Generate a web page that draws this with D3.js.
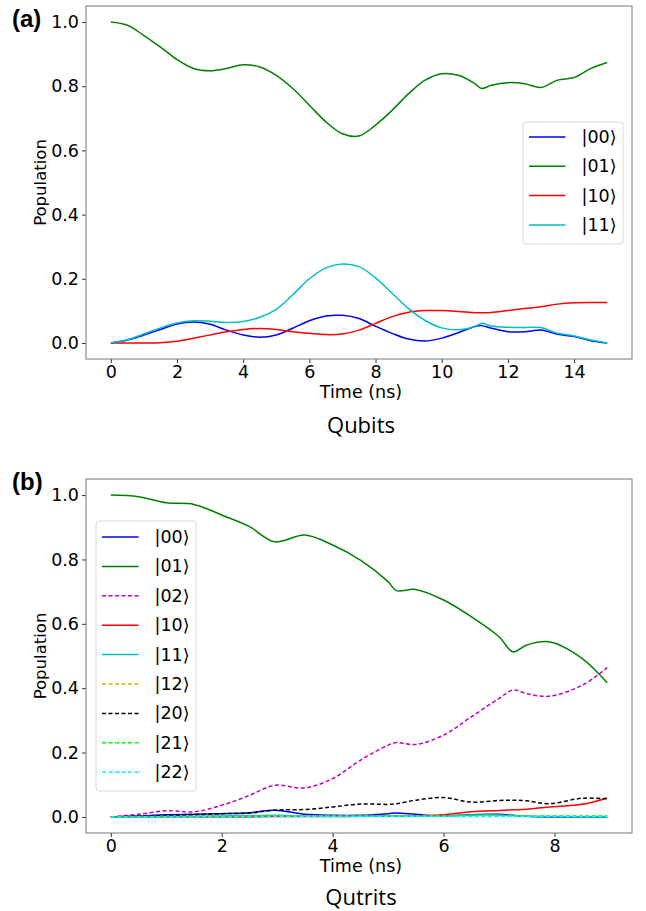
<!DOCTYPE html>
<html>
<head>
<meta charset="utf-8">
<script src="https://cdn.jsdelivr.net/npm/d3@7"></script>
<style>
  body { margin: 0; background: #fff; }
  svg { display: block; }
  .tick text { font-family: "DejaVu Sans", sans-serif; font-size: 17.5px; fill: #000; }
  .tick line { stroke: #333; }
</style>
</head>
<body>
<div id="chart"></div>
<script>
// ---- panel (a): qubits ----
var timeA = [0,0.5,1,1.5,2,2.5,3,3.5,4,4.5,5,5.5,6,6.5,7,7.5,8,8.5,9,9.5,10,10.5,11,11.2,11.5,12,12.5,13,13.5,14,14.5,15];
var popA00 = [0,0.009,0.025,0.042,0.059,0.065,0.058,0.04,0.025,0.018,0.025,0.046,0.069,0.084,0.086,0.076,0.052,0.03,0.012,0.006,0.015,0.032,0.051,0.054,0.046,0.035,0.035,0.04,0.027,0.02,0.007,0];
var popA01 = [1.0,0.99,0.958,0.922,0.883,0.855,0.848,0.855,0.867,0.86,0.834,0.793,0.741,0.689,0.652,0.645,0.679,0.725,0.777,0.819,0.839,0.834,0.808,0.793,0.803,0.811,0.808,0.796,0.819,0.827,0.855,0.874];
var popA10 = [0,0,0,0.001,0.005,0.015,0.025,0.035,0.042,0.045,0.042,0.035,0.03,0.026,0.028,0.04,0.061,0.082,0.096,0.101,0.101,0.098,0.094,0.094,0.095,0.101,0.107,0.113,0.121,0.125,0.126,0.126];
var popA11 = [0,0.01,0.028,0.047,0.062,0.069,0.068,0.064,0.067,0.08,0.105,0.15,0.2,0.234,0.246,0.238,0.203,0.155,0.107,0.07,0.047,0.041,0.051,0.061,0.053,0.049,0.048,0.048,0.03,0.022,0.009,0];
var ticksA = [0,2,4,6,8,10,12,14];

// ---- panel (b): qutrits ----
var timeB = [0,0.5,1,1.5,2,2.5,2.95,3.5,4,4.5,5,5.15,5.5,6,6.5,7,7.25,7.5,7.9,8.5,8.95];
var popB00 = [0,0.003,0.007,0.008,0.01,0.013,0.021,0.008,0.005,0.005,0.01,0.012,0.008,0.003,0.007,0.008,0.005,0.002,0,0,0];
var popB01 = [1.0,0.995,0.976,0.971,0.938,0.902,0.855,0.876,0.845,0.798,0.731,0.703,0.707,0.674,0.622,0.56,0.513,0.534,0.544,0.492,0.417];
var popB02 = [0,0.008,0.019,0.016,0.036,0.067,0.098,0.09,0.119,0.176,0.223,0.231,0.225,0.254,0.311,0.368,0.394,0.383,0.375,0.409,0.464];
var popB10 = [0,0,0,0,0,0,0.001,0.001,0.001,0.002,0.002,0.002,0.003,0.007,0.016,0.02,0.022,0.024,0.031,0.039,0.059];
var popB11 = [0,0.001,0.002,0.002,0.003,0.004,0.005,0.003,0.002,0.002,0.003,0.003,0.002,0.002,0.006,0.006,0.004,0.002,0.001,0,0];
var popB12 = [0,0,0,0.001,0.001,0.002,0.002,0.002,0.002,0.002,0.002,0.002,0.002,0.002,0.002,0.002,0.002,0.002,0.002,0.002,0.002];
var popB20 = [0,0.002,0.004,0.007,0.01,0.012,0.021,0.023,0.031,0.04,0.039,0.041,0.052,0.06,0.046,0.051,0.052,0.05,0.041,0.058,0.056];
var popB21 = [0,0,0.001,0.001,0.001,0.001,0.002,0.002,0.002,0.002,0.002,0.002,0.002,0.002,0.003,0.003,0.003,0.003,0.003,0.003,0.003];
var popB22 = [0,0,0,0,0,0,0.001,0.001,0.001,0.001,0.001,0.001,0.001,0.001,0.001,0.001,0.001,0.001,0.001,0.001,0.001];
var ticksB = [0,2,4,6,8];

var yTicks = [0,0.2,0.4,0.6,0.8,1.0];

var seriesA = [
  {name: "|00\u27e9", vals: popA00, color: "#0000ff", dash: null},
  {name: "|01\u27e9", vals: popA01, color: "#008000", dash: null},
  {name: "|10\u27e9", vals: popA10, color: "#ff0000", dash: null},
  {name: "|11\u27e9", vals: popA11, color: "#00bfbf", dash: null}
];
var seriesB = [
  {name: "|00\u27e9", vals: popB00, color: "#0000ff", dash: null},
  {name: "|01\u27e9", vals: popB01, color: "#008000", dash: null},
  {name: "|02\u27e9", vals: popB02, color: "#bf00bf", dash: "4,2.5"},
  {name: "|10\u27e9", vals: popB10, color: "#ff0000", dash: null},
  {name: "|11\u27e9", vals: popB11, color: "#00bfbf", dash: null},
  {name: "|12\u27e9", vals: popB12, color: "#bfbf00", dash: "4,2.5"},
  {name: "|20\u27e9", vals: popB20, color: "#000000", dash: "4,2.5"},
  {name: "|21\u27e9", vals: popB21, color: "#00ff00", dash: "4,2.5"},
  {name: "|22\u27e9", vals: popB22, color: "#00ffff", dash: "4,2.5"}
];

var svg = d3.select("#chart").append("svg")
    .attr("width", 646)
    .attr("height", 911);

function drawPanel(p){
  var x = d3.scaleLinear().domain(p.xdom).range([p.left, p.right]);
  var y = d3.scaleLinear().domain([-0.05, 1.05]).range([p.bottom, p.top]);
  var g = svg.append("g");

  g.append("g")
    .attr("transform", "translate(" + p.left + ",0)")
    .call(d3.axisLeft(y).tickValues(yTicks).tickFormat(d3.format(".1f")).tickSize(4).tickPadding(3))
    .call(function(a){ a.select(".domain").remove(); });

  g.append("g")
    .attr("transform", "translate(0," + p.bottom + ")")
    .call(d3.axisBottom(x).tickValues(p.xticks).tickFormat(d3.format("d")).tickSize(4).tickPadding(3))
    .call(function(a){ a.select(".domain").remove(); });

  var line = d3.line()
      .x(function(d){ return x(d[0]); })
      .y(function(d){ return y(d[1]); })
      .curve(d3.curveCatmullRom.alpha(0.5));

  p.series.forEach(function(s){
    g.append("path")
      .attr("d", line(p.time.map(function(t, i){ return [t, s.vals[i]]; })))
      .attr("fill", "none")
      .attr("stroke", s.color)
      .attr("stroke-width", 1.5)
      .attr("stroke-dasharray", s.dash);
  });

  g.append("rect")
    .attr("x", p.left).attr("y", p.top)
    .attr("width", p.right - p.left).attr("height", p.bottom - p.top)
    .attr("fill", "none").attr("stroke", "#777").attr("stroke-width", 1);

  // legend
  var lg = p.legend;
  g.append("rect")
    .attr("x", lg.x).attr("y", lg.y).attr("width", lg.w).attr("height", lg.h)
    .attr("rx", 3)
    .attr("fill", "#fff").attr("fill-opacity", 0.8)
    .attr("stroke", "#d8d8d8");
  p.series.forEach(function(s, i){
    var yy = lg.y + lg.first + i * lg.step;
    g.append("line")
      .attr("x1", lg.x + 6).attr("x2", lg.x + 42.5)
      .attr("y1", yy).attr("y2", yy)
      .attr("stroke", s.color).attr("stroke-width", 1.5)
      .attr("stroke-dasharray", s.dash);
    g.append("text")
      .attr("x", lg.x + 58.5).attr("y", yy + 6)
      .style("font-family", "DejaVu Sans, sans-serif")
      .style("font-size", "17.5px")
      .text(s.name);
  });

  g.append("text")
    .attr("transform", "translate(" + (p.left - 40) + "," + ((p.top + p.bottom) / 2) + ") rotate(-90)")
    .attr("text-anchor", "middle")
    .style("font-family", "DejaVu Sans, sans-serif")
    .style("font-size", "16.5px")
    .text("Population");

  g.append("text")
    .attr("x", (p.left + p.right) / 2 + 2).attr("y", p.bottom + 39)
    .attr("text-anchor", "middle")
    .style("font-family", "DejaVu Sans, sans-serif")
    .style("font-size", "17.5px")
    .text("Time (ns)");

  g.append("text")
    .attr("x", (p.left + p.right) / 2 + 2).attr("y", p.bottom + p.capOffset)
    .attr("text-anchor", "middle")
    .style("font-family", "Open Sans, sans-serif")
    .style("font-size", "22px")
    .text(p.caption);

  g.append("text")
    .attr("x", 12).attr("y", p.tagY)
    .style("font-family", "Liberation Sans, Arial, sans-serif")
    .style("font-weight", "bold")
    .style("font-size", "24px")
    .text(p.tag);
}

drawPanel({
  left: 86, right: 632, top: 6, bottom: 359,
  xdom: [-0.75, 15.75], xticks: ticksA, time: timeA, series: seriesA,
  legend: {x: 523, y: 122, w: 100, h: 122, first: 15, step: 29.3},
  caption: "Qubits", capOffset: 74, tag: "(a)", tagY: 27
});

drawPanel({
  left: 86, right: 632, top: 479, bottom: 833,
  xdom: [-0.4475, 9.3975], xticks: ticksB, time: timeB, series: seriesB,
  legend: {x: 96, y: 521, w: 100, h: 270, first: 16, step: 29.4},
  caption: "Qutrits", capOffset: 72, tag: "(b)", tagY: 490
});
</script>
</body>
</html>
